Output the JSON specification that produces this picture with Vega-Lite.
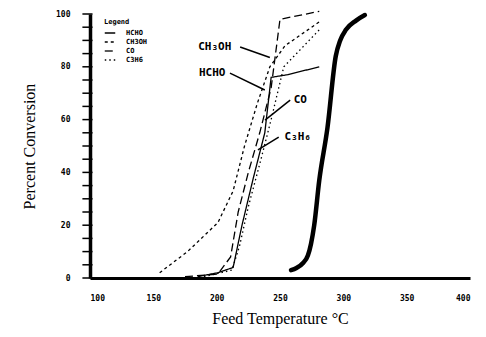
{
  "$schema": "https://vega.github.io/schema/vega-lite/v6.json",
  "autosize": {"type": "none"},
  "width": 380,
  "height": 264,
  "padding": {"left": 90, "top": 14, "right": 16, "bottom": 59},
  "background": "white",
  "config": {
    "view": {"stroke": null},
    "font": "DejaVu Sans"
  },
  "datasets": {
    "curves": [
      {"species": "CH3OH", "T": 155, "P": 2},
      {"species": "CH3OH", "T": 177, "P": 10},
      {"species": "CH3OH", "T": 201, "P": 21},
      {"species": "CH3OH", "T": 213, "P": 33},
      {"species": "CH3OH", "T": 222, "P": 50},
      {"species": "CH3OH", "T": 232, "P": 66},
      {"species": "CH3OH", "T": 242, "P": 80},
      {"species": "CH3OH", "T": 254, "P": 88},
      {"species": "CH3OH", "T": 281, "P": 97},
      {"species": "CO", "T": 175, "P": 0.5},
      {"species": "CO", "T": 201, "P": 1.5},
      {"species": "CO", "T": 211, "P": 8},
      {"species": "CO", "T": 217, "P": 25},
      {"species": "CO", "T": 225, "P": 40},
      {"species": "CO", "T": 234, "P": 55},
      {"species": "CO", "T": 243, "P": 72},
      {"species": "CO", "T": 250, "P": 98},
      {"species": "CO", "T": 281, "P": 101},
      {"species": "HCHO", "T": 185, "P": 0.5},
      {"species": "HCHO", "T": 201, "P": 2},
      {"species": "HCHO", "T": 213, "P": 4},
      {"species": "HCHO", "T": 220, "P": 20},
      {"species": "HCHO", "T": 229, "P": 38},
      {"species": "HCHO", "T": 238, "P": 55},
      {"species": "HCHO", "T": 243, "P": 76},
      {"species": "HCHO", "T": 256, "P": 77},
      {"species": "HCHO", "T": 281, "P": 80},
      {"species": "C3H6", "T": 190, "P": 0.5},
      {"species": "C3H6", "T": 212, "P": 3},
      {"species": "C3H6", "T": 218, "P": 12},
      {"species": "C3H6", "T": 225, "P": 27},
      {"species": "C3H6", "T": 235, "P": 45},
      {"species": "C3H6", "T": 243, "P": 60},
      {"species": "C3H6", "T": 253, "P": 80},
      {"species": "C3H6", "T": 281, "P": 94}
    ],
    "thick": [
      {"T": 258.7, "P": 3.0},
      {"T": 263, "P": 3.8},
      {"T": 268.2, "P": 5.7},
      {"T": 272, "P": 8.5},
      {"T": 274.5, "P": 13},
      {"T": 277, "P": 20},
      {"T": 281, "P": 37},
      {"T": 287.5, "P": 57},
      {"T": 294, "P": 84},
      {"T": 297.5, "P": 90},
      {"T": 302, "P": 94},
      {"T": 310, "P": 97.5},
      {"T": 317, "P": 99.6}
    ],
    "labels": [
      {"text": "CH₃OH", "T": 198.5, "P": 87.5},
      {"text": "HCHO", "T": 196.5, "P": 77.6},
      {"text": "CO", "T": 266, "P": 67.4},
      {"text": "C₃H₆", "T": 264, "P": 53.4}
    ],
    "leaders": [
      {"T": 218.5, "P": 87.5, "T2": 242, "P2": 83.5},
      {"T": 210.5, "P": 77.6, "T2": 238, "P2": 71.2},
      {"T": 258, "P": 67.4, "T2": 238.2, "P2": 59.8},
      {"T": 249, "P": 53.4, "T2": 232.6, "P2": 48.5},
      {"T": 94, "P": 0, "T2": 102, "P2": 0},
      {"T": 94, "P": 5, "T2": 102, "P2": 5},
      {"T": 94, "P": 10, "T2": 102, "P2": 10},
      {"T": 94, "P": 15, "T2": 102, "P2": 15},
      {"T": 94, "P": 20, "T2": 102, "P2": 20},
      {"T": 94, "P": 25, "T2": 102, "P2": 25},
      {"T": 94, "P": 30, "T2": 102, "P2": 30},
      {"T": 94, "P": 35, "T2": 102, "P2": 35},
      {"T": 94, "P": 40, "T2": 102, "P2": 40},
      {"T": 94, "P": 45, "T2": 102, "P2": 45},
      {"T": 94, "P": 50, "T2": 102, "P2": 50},
      {"T": 94, "P": 55, "T2": 102, "P2": 55},
      {"T": 94, "P": 60, "T2": 102, "P2": 60},
      {"T": 94, "P": 65, "T2": 102, "P2": 65},
      {"T": 94, "P": 70, "T2": 102, "P2": 70},
      {"T": 94, "P": 75, "T2": 102, "P2": 75},
      {"T": 94, "P": 80, "T2": 102, "P2": 80},
      {"T": 94, "P": 85, "T2": 102, "P2": 85},
      {"T": 94, "P": 90, "T2": 102, "P2": 90},
      {"T": 94, "P": 95, "T2": 102, "P2": 95},
      {"T": 94, "P": 100, "T2": 102, "P2": 100}
    ]
  },
  "layer": [
    {
      "data": {"name": "curves"},
      "mark": {"type": "line", "color": "black", "strokeWidth": 1.3, "clip": false},
      "encoding": {
        "x": {
          "field": "T", "type": "quantitative",
          "scale": {"domain": [100, 400], "nice": false, "zero": false},
          "axis": {
            "values": [100, 150, 200, 250, 300, 350, 400],
            "title": "Feed Temperature  °C",
            "titleFont": "Liberation Serif", "titleFontSize": 16, "titleFontWeight": "normal",
            "titleColor": "black", "titlePadding": 8,
            "labelFont": "DejaVu Sans Mono", "labelFontSize": 8, "labelFontWeight": "bold",
            "labelColor": "black", "labelPadding": 16,
            "ticks": false, "grid": false,
            "domainColor": "black", "domainWidth": 3
          }
        },
        "y": {
          "field": "P", "type": "quantitative",
          "scale": {"domain": [0, 100], "nice": false},
          "axis": {
            "values": [0, 20, 40, 60, 80, 100],
            "title": "Percent Conversion",
            "titleFont": "Liberation Serif", "titleFontSize": 16, "titleFontWeight": "normal",
            "titleColor": "black", "titlePadding": 18,
            "labelFont": "DejaVu Sans Mono", "labelFontSize": 8, "labelFontWeight": "bold",
            "labelColor": "black", "labelPadding": 20,
            "ticks": false,
            "grid": false,
            "domainColor": "black", "domainWidth": 3.5
          }
        },
        "strokeDash": {
          "field": "species", "type": "nominal",
          "scale": {
            "domain": ["HCHO", "CH3OH", "CO", "C3H6"],
            "range": [[1, 0], [3, 3], [8, 4], [1.5, 3]]
          },
          "legend": {
            "orient": "none", "legendX": 14, "legendY": 4,
            "title": "Legend", "titleFontSize": 7, "titleFontWeight": "bold",
            "titleColor": "black", "titlePadding": 2,
            "labelFontSize": 7, "labelFontWeight": "bold", "labelColor": "black",
            "labelFont": "DejaVu Sans Mono",
            "titleFont": "DejaVu Sans Mono",
            "symbolType": "stroke", "symbolSize": 110, "symbolStrokeWidth": 1.3,
            "symbolStrokeColor": "black", "rowPadding": 0, "labelOffset": 10
          }
        },
        "detail": {"field": "species"}
      }
    },
    {
      "data": {"name": "thick"},
      "mark": {"type": "line", "color": "black", "strokeWidth": 4.5, "strokeCap": "round", "interpolate": "monotone"},
      "encoding": {
        "x": {"field": "T", "type": "quantitative"},
        "y": {"field": "P", "type": "quantitative"}
      }
    },
    {
      "data": {"name": "leaders"},
      "mark": {"type": "rule", "color": "black", "strokeWidth": 1.5, "clip": false},
      "encoding": {
        "x": {"field": "T", "type": "quantitative"},
        "y": {"field": "P", "type": "quantitative"},
        "x2": {"field": "T2"},
        "y2": {"field": "P2"}
      }
    },
    {
      "data": {"name": "labels"},
      "mark": {"type": "text", "color": "black", "font": "DejaVu Sans Mono", "fontSize": 11, "fontWeight": "bold", "align": "center", "baseline": "middle"},
      "encoding": {
        "x": {"field": "T", "type": "quantitative"},
        "y": {"field": "P", "type": "quantitative"},
        "text": {"field": "text"}
      }
    }
  ]
}
